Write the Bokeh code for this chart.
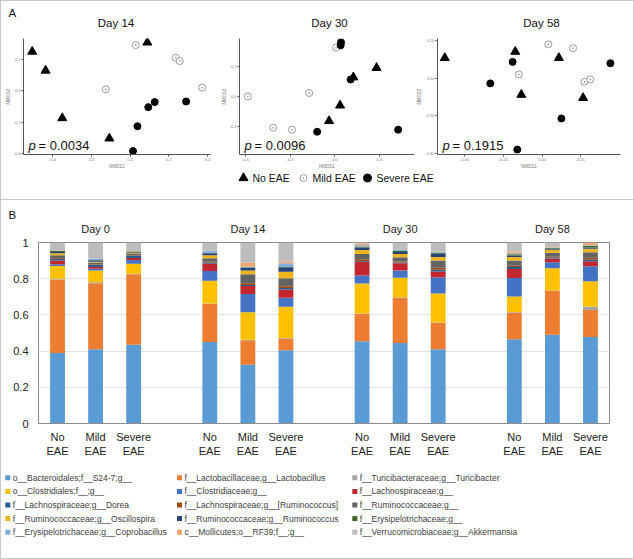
from bokeh.plotting import figure
from bokeh.layouts import column, row
from bokeh.models import (Range1d, FixedTicker, Label, LinearAxis, ColumnDataSource,
                          NumeralTickFormatter)
from bokeh.embed import file_html
from bokeh.resources import INLINE
from bokeh.core.properties import value

FONT = "Liberation Sans"

# ---------------- Panel A : NMDS ordination ----------------
d14_no_x = [-0.505, -0.436, -0.350, -0.107, 0.089]
d14_no_y = [0.247, 0.127, -0.174, -0.303, 0.305]
d14_mild_x = [0.029, -0.125, 0.236, 0.256, 0.372]
d14_mild_y = [0.288, 0.008, 0.208, 0.187, 0.019]
d14_sev_x = [0.094, 0.127, 0.289, 0.038, 0.015]
d14_sev_y = [-0.105, -0.073, -0.069, -0.226, -0.383]

d30_no_x = [0.125, 0.281, 0.036, -0.038]
d30_no_y = [0.130, 0.193, -0.058, -0.162]
d30_mild_x = [-0.584, -0.413, -0.288, -0.172, 0.009]
d30_mild_y = [0.002, -0.207, -0.220, 0.025, 0.328]
d30_sev_x = [0.042, 0.040, 0.107, -0.118, 0.426]
d30_sev_y = [0.364, 0.344, 0.115, -0.234, -0.220]

d58_no_x = [-0.627, -0.173, 0.108, -0.134, 0.264]
d58_no_y = [0.107, 0.140, 0.107, -0.088, -0.105]
d58_mild_x = [0.040, 0.199, -0.150, 0.273, 0.311]
d58_mild_y = [0.179, 0.159, 0.019, -0.019, -0.007]
d58_sev_x = [-0.190, -0.334, 0.440, 0.124, -0.160]
d58_sev_y = [0.086, -0.028, 0.079, -0.214, -0.379]

days_a = ["Day 14", "Day 30", "Day 58"]
p_values = ["0.0034", "0.0096", "0.1915"]
groups_a = ["No EAE", "Mild EAE", "Severe EAE"]

# ---------------- Panel B : relative abundance ----------------
days_b = ["Day 0", "Day 14", "Day 30", "Day 58"]
conditions = ["No\nEAE", "Mild\nEAE", "Severe\nEAE"]
taxa = [
    "o__Bacteroidales;f__S24-7;g__",
    "f__Lactobacillaceae;g__Lactobacillus",
    "f__Turicibacteraceae;g__Turicibacter",
    "o__Clostridiales;f__;g__",
    "f__Clostridiaceae;g__",
    "f__Lachnospiraceae;g__",
    "f__Lachnospiraceae;g__Dorea",
    "f__Lachnospiraceae;g__[Ruminococcus]",
    "f__Ruminococcaceae;g__",
    "f__Ruminococcaceae;g__Oscillospira",
    "f__Ruminococcaceae;g__Ruminococcus",
    "f__Erysipelotrichaceae;g__",
    "f__Erysipelotrichaceae;g__Coprobacillus",
    "c__Mollicutes;o__RF39;f__;g__",
    "f__Verrucomicrobiaceae;g__Akkermansia",
]
taxa_colors = ["#5B9BD5", "#ED7D31", "#A5A5A5", "#FFC000", "#4472C4", "#C3262E",
               "#255E91", "#9E480E", "#636363", "#EDB41E", "#264478", "#43682B",
               "#7CAFDD", "#F4A56C", "#BDBDBD"]
# order: D0 No, Mild, Severe, D14 No, Mild, Severe, D30 ..., D58 ...
bacteroidales = [0.390, 0.410, 0.435, 0.450, 0.325, 0.405, 0.455, 0.445, 0.410, 0.465, 0.490, 0.478]
lactobacillus = [0.405, 0.365, 0.390, 0.210, 0.135, 0.065, 0.150, 0.250, 0.145, 0.148, 0.243, 0.149]
turicibacter = [0.005, 0.005, 0.003, 0.003, 0.003, 0.003, 0.003, 0.003, 0.003, 0.003, 0.002, 0.018]
clostridiales = [0.070, 0.065, 0.055, 0.125, 0.152, 0.172, 0.165, 0.107, 0.160, 0.085, 0.123, 0.141]
clostridiaceae = [0.010, 0.010, 0.020, 0.055, 0.100, 0.050, 0.045, 0.040, 0.090, 0.103, 0.033, 0.083]
lachnospiraceae = [0.020, 0.010, 0.012, 0.040, 0.045, 0.045, 0.075, 0.040, 0.032, 0.050, 0.020, 0.027]
dorea = [0.010, 0.012, 0.010, 0.005, 0.005, 0.008, 0.005, 0.005, 0.010, 0.010, 0.008, 0.010]
lachno_ruminococcus = [0.005, 0.003, 0.003, 0.005, 0.010, 0.010, 0.010, 0.005, 0.010, 0.008, 0.005, 0.010]
ruminococcaceae = [0.015, 0.010, 0.008, 0.020, 0.050, 0.045, 0.028, 0.023, 0.040, 0.028, 0.020, 0.030]
oscillospira = [0.010, 0.003, 0.005, 0.017, 0.020, 0.035, 0.022, 0.018, 0.020, 0.020, 0.016, 0.020]
ruminococcus = [0.008, 0.007, 0.004, 0.010, 0.015, 0.025, 0.015, 0.012, 0.018, 0.008, 0.007, 0.007]
erysipelotrichaceae = [0.007, 0.003, 0.005, 0.003, 0.003, 0.005, 0.005, 0.005, 0.005, 0.007, 0.003, 0.007]
coprobacillus = [0.000, 0.007, 0.000, 0.010, 0.005, 0.017, 0.007, 0.005, 0.005, 0.005, 0.002, 0.005]
rf39 = [0.000, 0.000, 0.002, 0.002, 0.020, 0.010, 0.008, 0.002, 0.002, 0.010, 0.003, 0.012]
akkermansia = [0.045, 0.090, 0.048, 0.045, 0.112, 0.105, 0.007, 0.040, 0.050, 0.050, 0.025, 0.003]

taxa_values = [bacteroidales, lactobacillus, turicibacter, clostridiales, clostridiaceae,
               lachnospiraceae, dorea, lachno_ruminococcus, ruminococcaceae, oscillospira,
               ruminococcus, erysipelotrichaceae, coprobacillus, rf39, akkermansia]

BORDER = "#c9c9c9"
W = 632  # inner width (plus 1px border each side = 634)


def strip(height):
    """A blank figure whose data coordinates are pixels (y grows downwards)."""
    s = figure(width=W, height=height, x_range=Range1d(0, W), y_range=Range1d(height, 0),
               output_backend="svg", toolbar_location=None, min_border=0)
    s.axis.visible = False
    s.grid.visible = False
    s.outline_line_color = None
    return s


# header of panel A: panel letter + day titles
headA = strip(29)
headA.text([7], [11], text=["A"], text_font=value(FONT), text_font_size="11.5px",
           text_baseline="middle", text_color="#111111")
headA.text([114.5, 328, 540], [21, 21, 21], text=days_a, text_font=value(FONT),
           text_font_size="11.5px", text_baseline="middle", text_align="center",
           text_color="#111111")


def scatter_panel(width, bl, br, bt, xr, yr, xticks, yticks, fmt, pts, pval):
    p = figure(width=width, height=141, x_range=Range1d(*xr), y_range=Range1d(*yr),
               output_backend="svg", toolbar_location=None,
               min_border_left=bl, min_border_right=br, min_border_top=bt, min_border_bottom=15)
    p.outline_line_color = None
    p.grid.visible = False
    for ax, ticks, name in ((p.xaxis[0], xticks, "NMDS1"), (p.yaxis[0], yticks, "NMDS2")):
        ax.ticker = FixedTicker(ticks=ticks)
        ax.formatter = NumeralTickFormatter(format=fmt)
        ax.axis_label = name
        ax.axis_label_text_font = FONT
        ax.axis_label_text_font_size = "4.5px"
        ax.axis_label_text_font_style = "normal"
        ax.axis_label_text_color = "#777777"
        ax.axis_label_standoff = 0
        ax.major_label_text_font = FONT
        ax.major_label_text_font_size = "4px"
        ax.major_label_text_color = "#777777"
        ax.major_label_standoff = 1
        ax.axis_line_color = "#555555"
        ax.major_tick_line_color = "#555555"
        ax.major_tick_out = 2
        ax.major_tick_in = 0
        ax.minor_tick_line_color = None
    (nx, ny), (mx, my), (sx, sy) = pts
    p.scatter(mx, my, marker="circle_dot", size=7, line_color="#9a9a9a",
              fill_color="white", line_width=1)
    p.scatter(nx, ny, marker="triangle", size=9, color="black")
    p.scatter(sx, sy, marker="circle", size=7, color="black")
    p.add_layout(Label(x=xr[0], y=yr[0], x_offset=5, y_offset=2, text="p",
                       text_font=FONT, text_font_style="italic", text_font_size="13px",
                       text_color="#111111"))
    p.add_layout(Label(x=xr[0], y=yr[0], x_offset=15, y_offset=2, text="= " + pval,
                       text_font=FONT, text_font_size="13px", text_color="#111111"))
    return p


f14 = scatter_panel(217, 22, 8, 8, (-0.55, 0.415), (-0.405, 0.33),
                    [-0.4, -0.2, 0.0, 0.2, 0.4], [-0.4, -0.2, 0.0, 0.2], "0.0",
                    ((d14_no_x, d14_no_y), (d14_mild_x, d14_mild_y), (d14_sev_x, d14_sev_y)),
                    p_values[0])
f30 = scatter_panel(196, 20, 0, 8, (-0.64, 0.536), (-0.386, 0.389),
                    [-0.6, -0.3, 0.0, 0.3], [-0.2, 0.0, 0.2], "0.0",
                    ((d30_no_x, d30_no_y), (d30_mild_x, d30_mild_y), (d30_sev_x, d30_sev_y)),
                    p_values[1])
f58 = scatter_panel(219, 21, 13, 5, (-0.674, 0.505), (-0.405, 0.21),
                    [-0.5, -0.25, 0.0, 0.25], [-0.4, -0.2, 0.0, 0.2], "0.00",
                    ((d58_no_x, d58_no_y), (d58_mild_x, d58_mild_y), (d58_sev_x, d58_sev_y)),
                    p_values[2])

# legend strip of panel A
legA = strip(28)
leg_a_marker_x = [242, 302, 366]
leg_a_y = 6.5
legA.scatter([leg_a_marker_x[0]], [leg_a_y], marker="triangle", size=9, color="black")
legA.scatter([leg_a_marker_x[1]], [leg_a_y], marker="circle_dot", size=7,
             line_color="#9a9a9a", fill_color="white")
legA.scatter([leg_a_marker_x[2]], [leg_a_y], marker="circle", size=8, color="black")
legA.text([x + 9 for x in leg_a_marker_x], [leg_a_y] * 3, text=groups_a,
          text_font=value(FONT), text_font_size="10.5px", text_baseline="middle",
          text_color="#111111")

panelA = column(headA, row(f14, f30, f58), legA,
                styles={"border-bottom": "1px solid " + BORDER})

# ---------------- Panel B ----------------
headB = strip(19)
headB.text([7], [14], text=["B"], text_font=value(FONT), text_font_size="11.5px",
           text_baseline="middle", text_color="#111111")

xpos = [g * 4 + c for g in range(len(days_b)) for c in range(len(conditions))]
keys = ["t%d" % i for i in range(len(taxa))]
data = {"x": xpos}
for k, v in zip(keys, taxa_values):
    data[k] = v
src = ColumnDataSource(data)

pb = figure(width=W, height=244, x_range=Range1d(-0.5, 14.5), y_range=Range1d(0, 1),
            output_backend="svg", toolbar_location=None,
            min_border_left=37, min_border_right=24, min_border_top=21, min_border_bottom=40)
pb.vbar_stack(keys, x="x", width=0.39, color=taxa_colors, source=src, line_width=0)
pb.outline_line_color = "#8c8c8c"
pb.xgrid.visible = False
pb.ygrid.grid_line_color = "#e3e3e3"
pb.ygrid.ticker = FixedTicker(ticks=[0.2, 0.4, 0.6, 0.8])
pb.yaxis.ticker = FixedTicker(ticks=[0, 0.2, 0.4, 0.6, 0.8, 1.0])
pb.yaxis.formatter = NumeralTickFormatter(format="0.[0]")
pb.xaxis.ticker = FixedTicker(ticks=xpos)
pb.xaxis.major_label_overrides = {x: conditions[i % 3] for i, x in enumerate(xpos)}
for ax in (pb.xaxis[0], pb.yaxis[0]):
    ax.axis_line_color = "#8c8c8c"
    ax.major_tick_line_color = None
    ax.major_tick_out = 0
    ax.major_tick_in = 0
    ax.minor_tick_line_color = None
    ax.major_label_text_font = FONT
    ax.major_label_text_font_size = "11px"
    ax.major_label_text_color = "#222222"
pb.yaxis.major_label_standoff = 10
pb.xaxis.major_label_standoff = 7

day_axis = LinearAxis(ticker=FixedTicker(ticks=[g * 4 + 1 for g in range(len(days_b))]),
                      major_label_overrides={g * 4 + 1: d for g, d in enumerate(days_b)})
day_axis.axis_line_color = None
day_axis.major_tick_line_color = None
day_axis.major_tick_out = 0
day_axis.major_tick_in = 0
day_axis.minor_tick_line_color = None
day_axis.major_label_text_font = FONT
day_axis.major_label_text_font_size = "11px"
day_axis.major_label_text_color = "#222222"
day_axis.major_label_standoff = 8
pb.add_layout(day_axis, "above")

# legend of panel B
LH = 95
legB = strip(LH)
col_x = [6.3, 178, 353.3]
row_y0, row_dy = 14.3, 13.6
lx = [col_x[i % 3] for i in range(len(taxa))]
ly = [row_y0 + (i // 3) * row_dy for i in range(len(taxa))]
legB.scatter(lx, ly, marker="square", size=5, color=taxa_colors, line_width=0)
legB.text([x + 5 for x in lx], ly, text=taxa, text_font=value(FONT),
          text_font_size="8.5px", text_baseline="middle", text_color="#404040")

panelB = column(headB, row(pb), legB)

layout = column(panelA, panelB, styles={"border": "1px solid " + BORDER})

open("out.html", "w").write(file_html(layout, INLINE))
